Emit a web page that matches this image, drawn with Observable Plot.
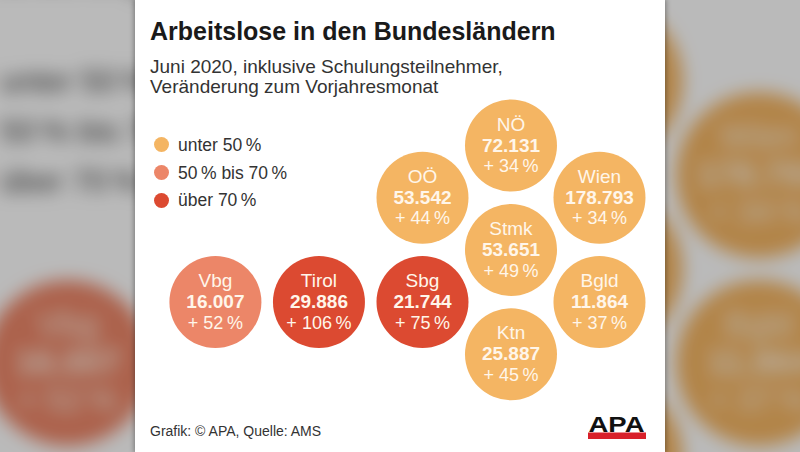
<!DOCTYPE html>
<html><head><meta charset="utf-8">
<script src="https://cdn.jsdelivr.net/npm/d3@7"></script>
<script src="https://cdn.jsdelivr.net/npm/@observablehq/plot@0.6"></script>
<style>
html,body{margin:0;padding:0;width:800px;height:452px;overflow:hidden;background:#b9b9b9;font-family:"Liberation Sans",Arial,sans-serif;}
#bg{position:absolute;left:135px;top:0;width:530px;height:452px;transform:scale(1.8);transform-origin:265px 226px;filter:blur(5px) brightness(0.73);}
#panel{position:absolute;left:135px;top:0;width:530px;height:452px;background:#fff;box-shadow:0 0 5px 1px rgba(0,0,0,0.35);overflow:hidden}
.abs{position:absolute;white-space:nowrap;line-height:1}
svg.plot{position:absolute;left:0;top:0}
</style></head><body>
<img id="bg" alt="">
<div id="panel"></div>
<script>
const regions = ["NÖ","OÖ","Wien","Stmk","Vbg","Tirol","Sbg","Bgld","Ktn"];
const unemployed = [72131,53542,178793,53651,16007,29886,21744,11864,25887];
const changePct = [34,44,34,49,52,106,75,37,45];
const categories = ["unter 50 %","50 % bis 70 %","über 70 %"];
const categoryColors = ["#f4b563","#ec8668","#dc4a31"];
// hex-cluster layout slots (grid units)
const gridCol = [1,0,2,1,-2.34,-1.17,0,2,1];
const gridRow = [0,1,1,2,3,3,3,3,4];

const catOf = p => p < 50 ? categories[0] : (p <= 70 ? categories[1] : categories[2]);
const fmt = d3.formatLocale({decimal:",",thousands:".",grouping:[3],currency:["","€"]}).format(",d");
const data = regions.map((name,i)=>({name, value:unemployed[i], pct:changePct[i], cat:catOf(changePct[i]), col:gridCol[i], row:gridRow[i]}));
const txt = "#fff6ea";
const FONT = '"Liberation Sans", Arial, sans-serif';
const legendLabel = c => c.replace(/ %/g,"\u2009%");

const chart = Plot.plot({
  width:530, height:452, margin:0,
  x:{domain:[-3.243,2.746], range:[0,530], axis:null},
  y:{domain:[-2.778,5.881], range:[0,452], axis:null},
  color:{domain:categories, range:categoryColors},
  style:{background:"white", fontFamily:FONT},
  marks:[
    Plot.dot(data,{x:"col",y:"row",r:46,fill:"cat",stroke:null}),
    Plot.text(data,{x:"col",y:"row",text:"name",dy:-21,fill:txt,fontSize:19,fontFamily:FONT}),
    Plot.text(data,{x:"col",y:"row",text:d=>fmt(d.value),dy:0,fill:txt,fontSize:19,fontWeight:"bold",fontFamily:FONT}),
    Plot.text(data,{x:"col",y:"row",text:d=>"+ "+d.pct+"\u2009%",dy:21,fill:txt,fontSize:18,fontFamily:FONT})
  ]
});
chart.classList.add("plot");

const panel = document.getElementById("panel");
panel.appendChild(chart);

function addDiv(text, css){
  const d = document.createElement("div");
  d.className = "abs";
  d.textContent = text;
  Object.assign(d.style, css);
  panel.appendChild(d);
  return d;
}
addDiv("Arbeitslose in den Bundesländern",{left:"15px",top:"18.8px",fontSize:"25px",fontWeight:"bold",color:"#1a1a1a"});
const sub = addDiv("",{left:"15px",top:"57.4px",fontSize:"19px",lineHeight:"20px",color:"#333"});
sub.innerHTML = "Juni 2020, inklusive Schulungsteilnehmer,<br>Veränderung zum Vorjahresmonat";

const legTops = [136.9,164.6,192.2];
const dotY = [144.3,172.3,200];
categories.forEach((c,i)=>{
  const s = document.createElement("div");
  Object.assign(s.style,{position:"absolute",left:"18.5px",top:(dotY[i]-7.5)+"px",width:"15px",height:"15px",borderRadius:"50%",background:categoryColors[i]});
  panel.appendChild(s);
  addDiv(legendLabel(c),{left:"43px",top:legTops[i]+"px",fontSize:"17.5px",color:"#333"});
});

addDiv("Grafik: © APA, Quelle: AMS",{left:"15px",top:"424.1px",fontSize:"14px",color:"#333"});

const logoSvg = '<rect x="1" y="19.5" width="58" height="6.5" fill="#d8202a"/>'+
  '<text x="1.5" y="18.5" font-family="Liberation Sans, Arial" font-weight="bold" font-size="22" textLength="56" lengthAdjust="spacingAndGlyphs" fill="#111">APA</text>';
const logo = document.createElement("div");
Object.assign(logo.style,{position:"absolute",left:"452px",top:"413px",width:"60px",height:"27px"});
logo.innerHTML = '<svg width="60" height="27" xmlns="http://www.w3.org/2000/svg">'+logoSvg+'</svg>';
panel.appendChild(logo);

// blurred, enlarged backdrop: the same picture rendered as an image
const esc = s => s.replace(/&/g,"&amp;").replace(/</g,"&lt;");
let s = '<svg xmlns="http://www.w3.org/2000/svg" width="530" height="452" font-family="Liberation Sans, Arial, sans-serif">';
s += '<rect width="530" height="452" fill="#fff"/>';
s += new XMLSerializer().serializeToString(chart);
s += '<text x="15" y="40" font-size="25" font-weight="bold" fill="#1a1a1a">'+esc("Arbeitslose in den Bundesländern")+'</text>';
s += '<text x="15" y="74" font-size="19" fill="#333">'+esc("Juni 2020, inklusive Schulungsteilnehmer,")+'</text>';
s += '<text x="15" y="94" font-size="19" fill="#333">'+esc("Veränderung zum Vorjahresmonat")+'</text>';
categories.forEach((c,i)=>{
  s += '<circle cx="26" cy="'+dotY[i]+'" r="7.5" fill="'+categoryColors[i]+'"/>';
  s += '<text x="43" y="'+(legTops[i]+14.8)+'" font-size="17.5" fill="#333">'+esc(legendLabel(c))+'</text>';
});
s += '<text x="15" y="436" font-size="14" fill="#333">'+esc("Grafik: © APA, Quelle: AMS")+'</text>';
s += '<g transform="translate(452,413)">'+logoSvg+'</g>';
s += '</svg>';
document.getElementById("bg").src = "data:image/svg+xml;charset=utf-8," + encodeURIComponent(s);
</script>
</body></html>
